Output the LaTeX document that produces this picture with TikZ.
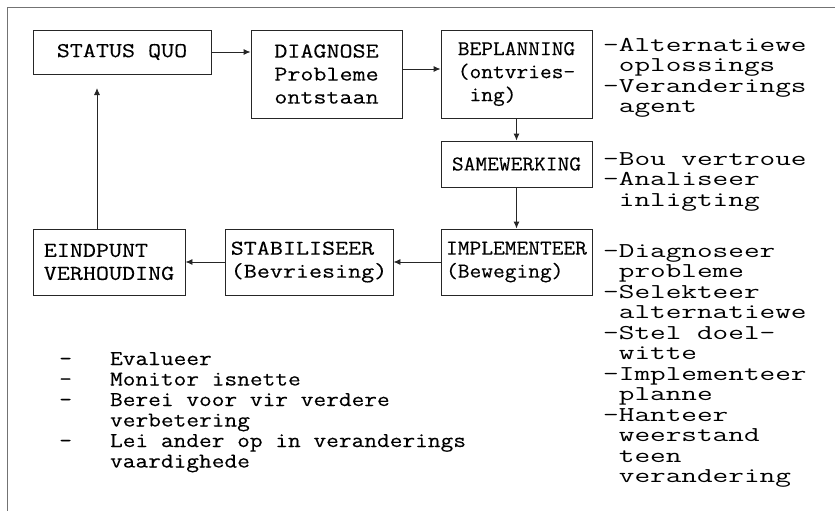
\documentclass[tikz,border=0pt]{standalone}
\usepackage{fontspec}
\newfontfamily\boxtt[FakeStretch=1.2, FakeBold=0.25]{Latin Modern Mono}
\newfontfamily\narrowtt[FakeStretch=1.08, FakeBold=0.25]{Latin Modern Mono}
\newfontfamily\widett[FakeStretch=1.44]{Latin Modern Mono}
\newfontfamily\listtt[FakeStretch=1.17, FakeBold=0.25]{Latin Modern Mono}
\usepackage{tikz}
\usetikzlibrary{arrows.meta,positioning}

\begin{document}
\begin{tikzpicture}[x=1pt, y=-1pt,
        box/.style={draw=black!85, line width=0.9pt, inner sep=0pt, align=left, font=\boxtt\fontsize{21.1}{23}\selectfont},
        rbox/.style={box, minimum width=151pt, font=\narrowtt\fontsize{21.1}{23}\selectfont},
        note/.style={anchor=base west, inner sep=0pt, align=left, font=\widett\fontsize{21.1}{20.5}\selectfont},
        arr/.style={draw=black!85, line width=0.9pt, -{Latex[length=7pt, width=6pt]}}]
    \useasboundingbox (0,0) rectangle (835,511);
    % page frame
    \draw[black!55, line width=0.8pt] (835,7) -- (7,7) -- (7,511);

    % the cycle
    \node[box, minimum width=178pt, minimum height=44pt] (sq) at (122,52) {STATUS QUO};
    \node[box, minimum width=151pt, minimum height=88pt] (diag) at (326.5,74) {DIAGNOSE\\Probleme\\ontstaan};
    \node[rbox, minimum height=88pt] (bepl) at (516.5,74) {BEPLANNING\\(ontvries-\\~ing)};
    \node[rbox, minimum height=46pt] (same) at (516.5,164) {SAMEWERKING};
    \node[rbox, minimum height=66pt] (impl) at (516.5,262) {IMPLEMENTEER\\(Beweging)};
    \node[box, minimum width=168pt, minimum height=66pt] (stab) at (309,262) {STABILISEER\\(Bevriesing)};
    \node[box, minimum width=152pt, minimum height=66pt] (eind) at (109,262) {EINDPUNT\\VERHOUDING};
    \coordinate (sqin) at (97,88);

    \draw[arr] (sq.east) -- (sq.east -| diag.west);
    \draw[arr] ([yshift=5pt]diag.east) -- ([yshift=5pt]diag.east -| bepl.west);
    \draw[arr] (bepl) -- (same);
    \draw[arr] (same) -- (impl);
    \draw[arr] (impl) -- (stab);
    \draw[arr] (stab) -- (eind);
    \draw[arr] (eind.north -| sqin) -- (sqin);

    % side notes (placed by the baseline of their last line)
    \node[note] (nbepl) at (603,112.5) {-Alternatiewe\\~oplossings\\-Veranderings\\~agent};
    \node[note] (nsame) at (603,206) {-Bou vertroue\\-Analiseer\\~inligting};
    \node[note] (nimpl) at (603,482.5) {-Diagnoseer\\~probleme\\-Selekteer\\~alternatiewe\\-Stel doel-\\~witte\\-Implementeer\\~planne\\-Hanteer\\~weerstand\\~teen\\~verandering};
    \node[note, font=\listtt\fontsize{21.1}{20.5}\selectfont] (neind) at (59,467.5) {-~~~Evalueer\\-~~~Monitor isnette\\-~~~Berei voor vir verdere\\~~~~verbetering\\-~~~Lei ander op in veranderings\\~~~~vaardighede};
\end{tikzpicture}
\end{document}
